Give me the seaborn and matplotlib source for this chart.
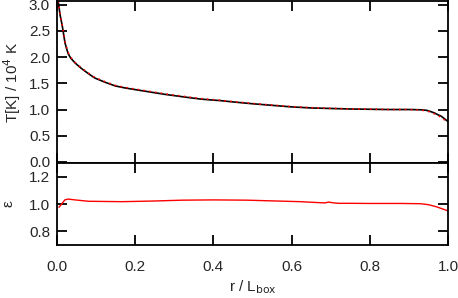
import numpy as np
import pandas as pd
import seaborn as sns
import matplotlib
matplotlib.use("Agg")
import matplotlib.pyplot as plt

# Temperature profile (units of 1e4 K)
r_T = [0.003, 0.008, 0.0136, 0.0205, 0.025, 0.029, 0.035, 0.04, 0.046, 0.055,
       0.063, 0.072, 0.085, 0.097, 0.11, 0.123, 0.136, 0.149, 0.175, 0.2,
       0.225, 0.25, 0.28, 0.315, 0.34, 0.367, 0.39, 0.418, 0.45, 0.5, 0.55,
       0.6, 0.65, 0.7, 0.75, 0.8, 0.85, 0.9, 0.93, 0.945, 0.956, 0.965, 0.973,
       0.982, 0.99, 1.0]
T_sim = [3.06, 2.80, 2.59, 2.27, 2.15, 2.06, 1.98, 1.94, 1.89, 1.83,
         1.78, 1.73, 1.66, 1.60, 1.56, 1.52, 1.485, 1.45, 1.41, 1.38,
         1.35, 1.32, 1.285, 1.25, 1.225, 1.20, 1.185, 1.17, 1.145, 1.11, 1.08,
         1.05, 1.03, 1.02, 1.01, 1.005, 1.0, 1.0, 0.995, 0.985, 0.96, 0.935, 0.905,
         0.875, 0.83, 0.77]
T_ref = [3.07, 2.82, 2.60, 2.29, 2.17, 2.08, 2.0, 1.95, 1.90, 1.84,
         1.79, 1.74, 1.67, 1.61, 1.57, 1.53, 1.495, 1.46, 1.42, 1.39,
         1.36, 1.33, 1.295, 1.26, 1.235, 1.21, 1.193, 1.175, 1.15, 1.115, 1.085,
         1.055, 1.035, 1.022, 1.012, 1.006, 1.0, 1.0, 0.99, 0.975, 0.95, 0.92, 0.89,
         0.855, 0.81, 0.745]

# Ratio epsilon
r_eps = [0.005, 0.012, 0.02, 0.029, 0.046, 0.08, 0.166, 0.25, 0.32, 0.4, 0.486,
         0.56, 0.623, 0.656, 0.685, 0.695, 0.705, 0.72, 0.75, 0.8, 0.88, 0.93,
         0.95, 0.97, 0.985, 1.0]
eps = [0.976, 1.0, 1.03, 1.036, 1.03, 1.02, 1.017, 1.022, 1.028, 1.03, 1.028,
       1.022, 1.017, 1.012, 1.008, 1.014, 1.009, 1.005, 1.005, 1.004, 1.004, 1.002,
       0.995, 0.98, 0.965, 0.95]

sns.set_style("ticks")
plt.rcParams['font.family'] = ['Liberation Sans', 'DejaVu Sans']
plt.rcParams['font.size'] = 11

fig = plt.figure(figsize=(4.58, 2.98), dpi=100)
ax1 = fig.add_axes([57/458, 1-163/298, 391/458, 162/298])
ax2 = fig.add_axes([57/458, 1-245/298, 391/458, 82/298])

dfT = pd.DataFrame({"r": r_T, "sim": T_sim, "ref": T_ref})
sns.lineplot(data=dfT, x="r", y="sim", ax=ax1, color="black", lw=1.2)
sns.lineplot(data=dfT, x="r", y="ref", ax=ax1, color="red", lw=1.2,
             linestyle=(0, (1, 2.5)))
dfE = pd.DataFrame({"r": r_eps, "eps": eps})
sns.lineplot(data=dfE, x="r", y="eps", ax=ax2, color="red", lw=1.0)

for ax in (ax1, ax2):
    ax.set_xlim(0, 1)
    ax.tick_params(direction="in", top=True, right=True, length=7, width=1.3,
                   color="black", labelsize=11, pad=5)
    for s in ax.spines.values():
        s.set_linewidth(1.3)
        s.set_color("black")
    ax.set_xticks([0, 0.2, 0.4, 0.6, 0.8, 1.0])

ax1.set_ylim(-0.02, 3.07)
ax1.set_yticks([0, 0.5, 1.0, 1.5, 2.0, 2.5, 3.0])
ax1.set_yticklabels(["0.0", "0.5", "1.0", "1.5", "2.0", "2.5", "3.0"])
ax1.set_xticklabels([])
ax1.set_xlabel("")
ax1.set_ylabel("T[K] / 10$^4$ K", labelpad=4)

ax2.set_ylim(0.7, 1.3)
ax2.set_yticks([0.8, 1.0, 1.2])
ax2.set_yticklabels(["0.8", "1.0", "1.2"])
ax2.set_xticklabels(["0.0", "0.2", "0.4", "0.6", "0.8", "1.0"])
ax2.tick_params(axis="x", pad=11)
ax2.set_ylabel("ε", labelpad=10)
ax2.set_xlabel("r / L$_{\\rm box}$", labelpad=3)

fig.savefig("out.png", dpi=100)
